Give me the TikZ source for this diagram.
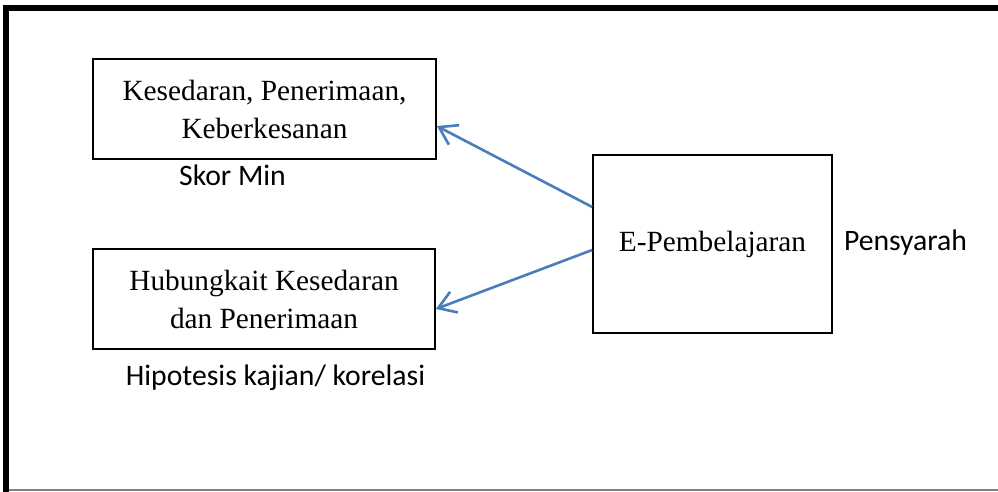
\documentclass[tikz,border=0pt]{standalone}
\usepackage{fontspec}
\setmainfont{Liberation Serif}
\newfontfamily\calfont{Carlito}
\usetikzlibrary{arrows.meta}
\definecolor{wordblue}{HTML}{4A7EBB}
\tikzset{
  box/.style={draw=black, line width=1.6pt, minimum width=#1, align=center, inner sep=0pt},
  boxtext/.style={font=\fontsize{29.3}{38}\selectfont},
  lbl/.style={font=\calfont\fontsize{29.7}{34}\selectfont, inner sep=0pt},
  conn/.style={draw=wordblue, line width=2.6pt, -{Straight Barb[length=17pt,width=22pt,line width=2.6pt]}}
}
\begin{document}
\begin{tikzpicture}[x=1pt,y=-1pt]
\useasboundingbox (0,0) rectangle (998,492);
% frame
\fill[black] (3,5) rectangle (998,11);
\fill[black] (3,5) rectangle (9,492);
\draw[gray, line width=2pt] (9,490) -- (998,490);
% boxes
\node[box=343pt, minimum height=100pt, boxtext] (k) at (264.5,109) {Kesedaran, Penerimaan,\\Keberkesanan};
\node[box=342pt, minimum height=100pt, boxtext] (h) at (264,299) {Hubungkait Kesedaran\\dan Penerimaan};
\node[box=239pt, minimum height=178pt, boxtext] (e) at (712.5,244) {E-Pembelajaran};
% labels
\node[lbl] (skor) at (232.5,175) {Skor Min};
\node[lbl] (hip) at (275.5,378) {Hipotesis kajian/ korelasi};
\node[lbl] (pen) at (905.5,243) {Pensyarah};
% connectors
\draw[conn] ([yshift=37pt]e.west) -- ([yshift=-17pt]k.east);
\draw[conn] ([yshift=-6pt]e.west) -- ([yshift=-10pt]h.east);
\end{tikzpicture}
\end{document}
